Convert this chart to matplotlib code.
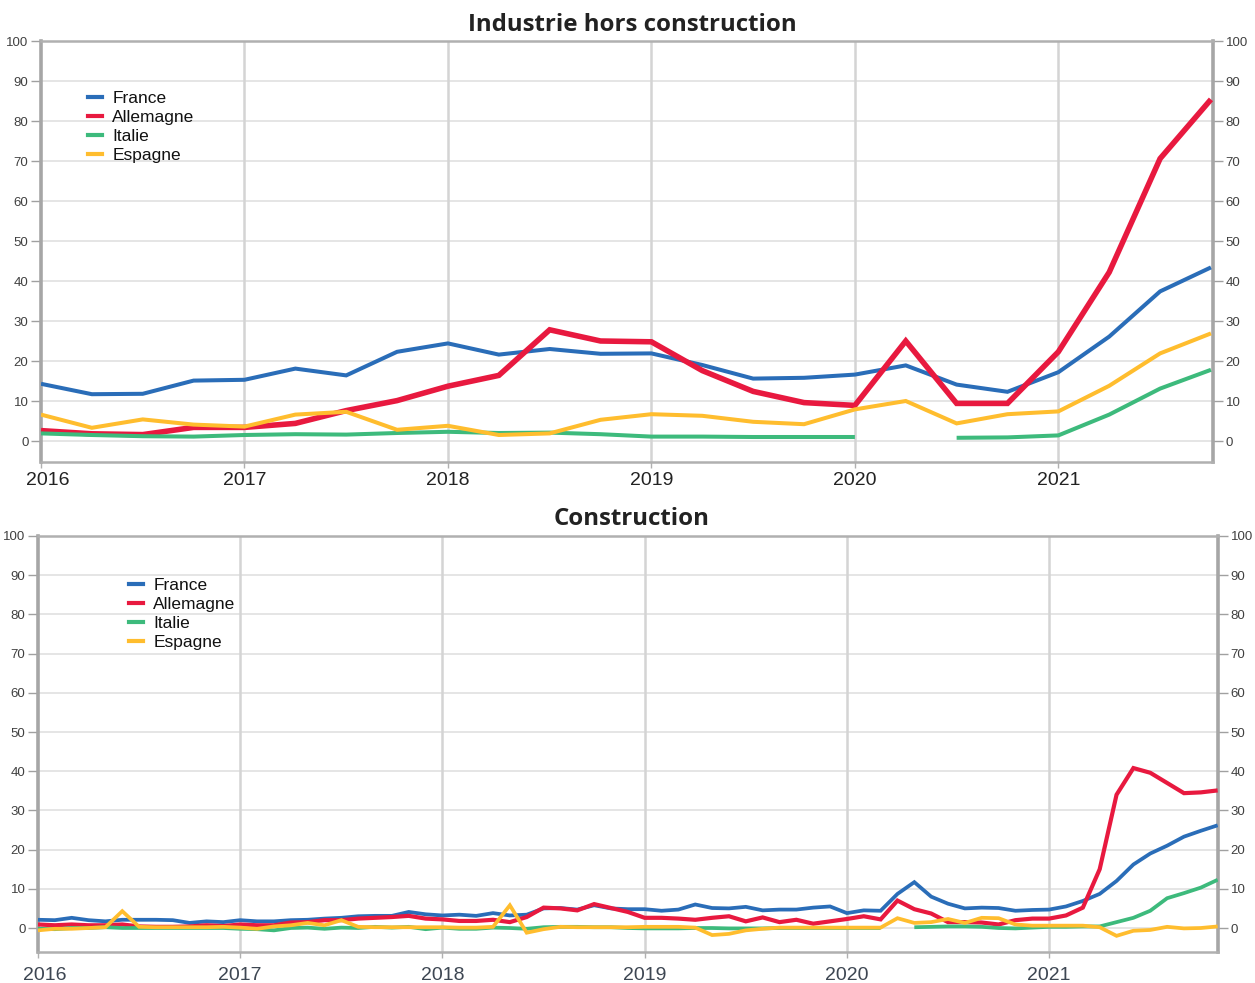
import numpy as np
import matplotlib
matplotlib.use("Agg")
import matplotlib.pyplot as plt
from matplotlib.lines import Line2D
from matplotlib.transforms import ScaledTranslation

nan = np.nan

# ---------------- data ----------------
series_names = ["France", "Allemagne", "Italie", "Espagne"]
colors = ["#2a6db8", "#e8193f", "#3dba7c", "#ffbd2e"]

# Industrie hors construction : quarterly, 2016T1 .. 2021T4
france_ind = [14.3, 11.7, 11.8, 15.1, 15.3, 18.1, 16.4, 22.3, 24.4, 21.6, 23.0, 21.8,
              21.9, 19.0, 15.6, 15.8, 16.6, 18.9, 14.1, 12.3, 17.2, 26.1, 37.4, 43.4]
allemagne_ind = [2.6, 1.8, 1.6, 3.4, 3.4, 4.4, 7.6, 10.1, 13.7, 16.4, 27.8, 25.0,
                 24.8, 17.6, 12.4, 9.6, 8.9, 25.0, 9.4, 9.4, 22.3, 42.2, 70.6, 85.4]
italie_ind = [1.9, 1.5, 1.2, 1.1, 1.5, 1.7, 1.6, 2.0, 2.3, 2.0, 2.1, 1.7,
              1.1, 1.1, 1.0, 1.0, 1.0, nan, 0.8, 0.9, 1.4, 6.6, 13.1, 17.8]
espagne_ind = [6.6, 3.3, 5.4, 4.1, 3.6, 6.6, 7.3, 2.8, 3.8, 1.5, 1.9, 5.3,
               6.7, 6.3, 4.8, 4.2, 7.9, 10.0, 4.4, 6.7, 7.4, 13.8, 21.9, 26.9]

# Construction : monthly, 2016-01 .. 2021-11
france_con = [2.1, 2.0, 2.6, 2.0, 1.7, 2.1, 2.1, 2.1, 2.0, 1.3, 1.7, 1.5,
              2.0, 1.7, 1.7, 2.0, 2.1, 2.4, 2.6, 3.0, 3.1, 3.1, 4.1, 3.5,
              3.2, 3.4, 3.1, 3.8, 3.2, 3.4, 5.0, 5.1, 4.7, 5.8, 5.0, 4.8,
              4.8, 4.4, 4.7, 6.0, 5.1, 5.0, 5.4, 4.5, 4.7, 4.7, 5.2, 5.5,
              3.8, 4.5, 4.4, 8.7, 11.7, 8.0, 6.2, 5.0, 5.2, 5.1, 4.4, 4.6,
              4.7, 5.5, 6.9, 8.7, 12.0, 16.2, 19.0, 21.0, 23.3, 24.8, 26.2]
allemagne_con = [0.9, 0.7, 0.9, 0.7, 0.7, 0.9, 0.4, 0.3, 0.3, 0.4, 0.7, 0.5,
                 0.9, 0.7, 0.7, 1.4, 1.5, 2.0, 2.0, 2.4, 2.6, 2.8, 3.1, 2.4,
                 2.2, 1.8, 1.8, 2.1, 1.5, 2.8, 5.2, 5.0, 4.5, 6.1, 5.1, 4.1,
                 2.6, 2.6, 2.4, 2.1, 2.6, 3.0, 1.7, 2.7, 1.5, 2.1, 1.1, 1.7,
                 2.3, 3.0, 2.2, 7.0, 4.8, 3.7, 1.5, 1.5, 1.4, 0.9, 2.0, 2.4,
                 2.4, 3.2, 5.2, 15.0, 34.0, 40.8, 39.6, 37.0, 34.4, 34.6, 35.1]
italie_con = [-0.2, -0.3, 0.0, 0.0, 0.2, 0.0, 0.0, 0.0, 0.0, 0.0, 0.0, 0.0,
              -0.2, -0.3, -0.6, 0.0, 0.1, -0.2, 0.1, 0.0, 0.3, 0.1, 0.3, -0.3,
              0.1, -0.2, -0.2, 0.1, 0.0, -0.2, 0.2, 0.3, 0.3, 0.2, 0.2, 0.0,
              -0.1, -0.1, -0.1, 0.0, 0.0, -0.1, -0.1, -0.1, 0.0, 0.0, 0.0, 0.0,
              0.0, 0.0, 0.0, nan, 0.2, 0.3, 0.4, 0.4, 0.3, 0.0, -0.1, 0.1,
              0.3, 0.3, 0.4, 0.4, 1.5, 2.6, 4.4, 7.6, 8.9, 10.3, 12.3]
espagne_con = [-0.6, -0.2, -0.2, 0.0, 0.2, 4.3, 0.3, 0.2, 0.2, 0.2, 0.2, 0.3,
               0.1, -0.2, 0.4, 0.7, 1.3, 0.7, 2.0, 0.3, 0.2, 0.2, 0.2, 0.2,
               0.2, 0.1, 0.1, 0.3, 5.8, -1.2, -0.3, 0.3, 0.2, 0.2, 0.2, 0.2,
               0.3, 0.3, 0.3, 0.1, -1.8, -1.5, -0.6, -0.2, 0.1, 0.1, 0.1, 0.1,
               0.1, 0.1, 0.1, 2.5, 1.3, 1.5, 2.3, 1.3, 2.6, 2.5, 0.9, 0.6,
               0.6, 0.6, 0.6, 0.2, -2.0, -0.7, -0.5, 0.3, -0.1, 0.0, 0.4]

year_ticks = [2016, 2017, 2018, 2019, 2020, 2021]
y_ticks = list(range(0, 101, 10))

t_ind = 2016 + np.arange(len(france_ind)) / 4.0
t_con = 2016 + np.arange(len(france_con)) / 12.0

# ---------------- figure ----------------
W, H = 1255, 983
fig = plt.figure(figsize=(W / 100, H / 100), dpi=100)
FONT = ["Liberation Sans", "DejaVu Sans"]
plt.rcParams["font.family"] = FONT


def make_axes(left, right, top, bottom):
    return fig.add_axes([left / W, 1 - bottom / H, (right - left) / W, (bottom - top) / H])


def style_axes(ax, xmax, ymin, label_color, xpad, first_shift_px):
    ax.set_xlim(2016, xmax)
    ax.set_ylim(ymin, 100)
    ax.set_facecolor("white")
    for s in ["left", "right"]:
        ax.spines[s].set_color("#a6a6a6")
        ax.spines[s].set_linewidth(2.6)
    for s in ["top", "bottom"]:
        ax.spines[s].set_color("#b0b0b0")
        ax.spines[s].set_linewidth(1.8)
    for y in y_ticks[:-1]:
        ax.axhline(y, color="#e3e3e3", lw=1.3, zorder=0)
    for x in year_ticks[1:]:
        ax.axvline(x, color="#d4d4d4", lw=1.8, zorder=0)
    ax.set_yticks(y_ticks)
    ax.set_yticklabels([str(v) for v in y_ticks])
    ax.tick_params(axis="y", which="both", left=True, right=True, labelleft=True,
                   labelright=True, direction="out", length=7, width=1.0,
                   color="#a0a0a0", labelsize=9.5, labelcolor="#404040", pad=2)
    ax.set_xticks(year_ticks)
    ax.set_xticklabels([str(v) for v in year_ticks])
    ax.tick_params(axis="x", direction="out", length=4, width=1.0, color="#b0b0b0",
                   labelsize=14, labelcolor=label_color, pad=xpad)
    lab = ax.get_xticklabels()[0]
    lab.set_transform(lab.get_transform() +
                      ScaledTranslation(first_shift_px / 100, 0, fig.dpi_scale_trans))


def add_legend(x_px, y_px):
    handles = [Line2D([], [], color=c, lw=3) for c in colors]
    leg = fig.legend(handles, series_names, loc="upper left",
                     bbox_to_anchor=(x_px / W, 1 - y_px / H),
                     frameon=False, handlelength=0.8, handletextpad=0.6,
                     labelspacing=0.22, borderpad=0, borderaxespad=0,
                     prop={"family": FONT, "size": 12.5})
    for t in leg.get_texts():
        t.set_color("#111111")
    return leg


# ---- top panel ----
ax1 = make_axes(41, 1213, 41, 462)
style_axes(ax1, 2021.76, -5.25, "#222222", 3, 7)
ind_series = [france_ind, allemagne_ind, italie_ind, espagne_ind]
ind_lw = [2.9, 4.0, 2.9, 2.9]
for name, vals, c, lw in zip(series_names, ind_series, colors, ind_lw):
    ax1.plot(t_ind, vals, color=c, lw=lw, solid_joinstyle="miter",
             solid_capstyle="butt", zorder=3)
fig.text(632 / W, 1 - 25 / H, "Industrie hors construction", ha="center", va="center",
         fontsize=17.3, fontweight="bold", family=["Open Sans", "DejaVu Sans"], color="#222222")
add_legend(88, 91)

# ---- bottom panel ----
ax2 = make_axes(38, 1218, 536, 952)
style_axes(ax2, 2021.835, -6.12, "#3d4652", 7, 7)
con_series = [france_con, allemagne_con, italie_con, espagne_con]
con_lw = [2.7, 3.0, 2.7, 2.7]
for name, vals, c, lw in zip(series_names, con_series, colors, con_lw):
    ax2.plot(t_con, vals, color=c, lw=lw, solid_joinstyle="miter",
             solid_capstyle="butt", zorder=3)
fig.text(632 / W, 1 - 519 / H, "Construction", ha="center", va="center",
         fontsize=17.3, fontweight="bold", family=["Open Sans", "DejaVu Sans"], color="#222222")
add_legend(129, 578)

fig.savefig("out.png", dpi=100, facecolor="white")
